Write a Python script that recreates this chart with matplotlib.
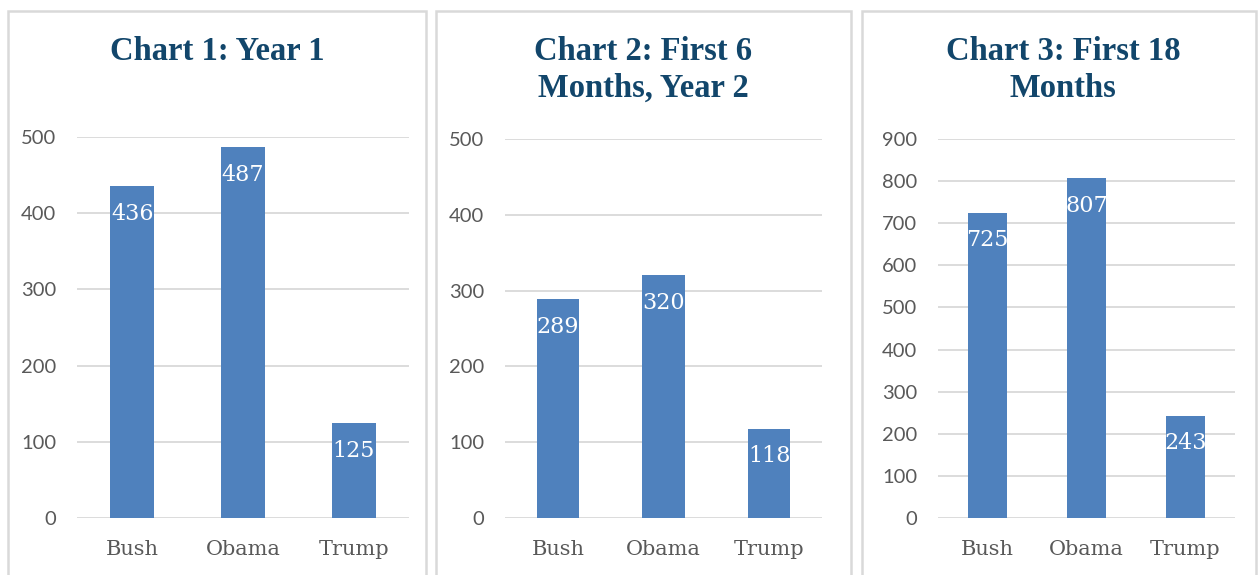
import matplotlib
matplotlib.use("Agg")
import matplotlib.pyplot as plt
from matplotlib.patches import Rectangle

# =========================
# DATA
# =========================
presidents = ["Bush", "Obama", "Trump"]
year1 = [436, 487, 125]
first6_year2 = [289, 320, 118]
first18 = [725, 807, 243]

titles = ["Chart 1: Year 1", "Chart 2: First 6\nMonths, Year 2", "Chart 3: First 18\nMonths"]
yticks_list = [list(range(0, 501, 100)), list(range(0, 501, 100)), list(range(0, 901, 100))]

# =========================
# STYLE
# =========================
W, H = 1258, 575
BAR_COLOR = "#4F81BD"
GRID_COLOR = "#D9D9D9"
TITLE_COLOR = "#12466B"
TICK_COLOR = "#595959"
SERIF = "DejaVu Serif"
TITLE_FONT = "Liberation Serif"
SANS = "Lato"

fig = plt.figure(figsize=(W / 100, H / 100), dpi=100)

# panel borders (pixel coords)
panels = [(8, 11, 426), (436, 11, 851), (862, 11, 1256)]
for x0, y0, x1 in panels:
    fig.patches.append(Rectangle((x0 / W, -0.05), (x1 - x0) / W, 1 - y0 / H + 0.05,
                                 transform=fig.transFigure, fill=False,
                                 edgecolor=GRID_COLOR, linewidth=1.8))

# axes placement in pixels: left, right, top-of-range pixel
axes_px = [(77, 409, 137), (505, 822, 139), (938, 1235, 139)]
title_y = [51, 70, 70]
title_x = [217, 643, 1063]

data = [year1, first6_year2, first18]

for i in range(3):
    l, r, t = axes_px[i]
    bottom = 518
    ax = fig.add_axes([l / W, 1 - bottom / H, (r - l) / W, (bottom - t) / H])
    vals = data[i]
    xs = range(len(presidents))
    ax.bar(xs, vals, width=0.4, color=BAR_COLOR, zorder=3)
    ymax = yticks_list[i][-1]
    ax.set_ylim(0, ymax)
    ax.set_xlim(-0.5, 2.5)
    ax.set_yticks(yticks_list[i])
    ax.set_xticks(list(xs))
    ax.set_xticklabels(presidents, family=SERIF, fontsize=15, color=TICK_COLOR)
    ax.tick_params(axis="y", length=0, pad=15, labelsize=14.5, labelcolor=TICK_COLOR)
    ax.tick_params(axis="x", length=0, pad=16)
    for lab in ax.get_yticklabels():
        lab.set_family(SANS)
    ax.grid(axis="y", color=GRID_COLOR, linewidth=1.3, zorder=0)
    for s in ax.spines.values():
        s.set_visible(False)
    for x, v in zip(xs, vals):
        ax.annotate(str(v), (x, v), xytext=(0, -20), textcoords="offset points",
                    ha="center", va="center", color="white", fontsize=16, family=SERIF)
    fig.text(title_x[i] / W, 1 - title_y[i] / H, titles[i], ha="center", va="center",
             fontsize=23.5, fontweight="bold", family=TITLE_FONT, color=TITLE_COLOR,
             linespacing=1.27)

fig.savefig("out.png", dpi=100)
